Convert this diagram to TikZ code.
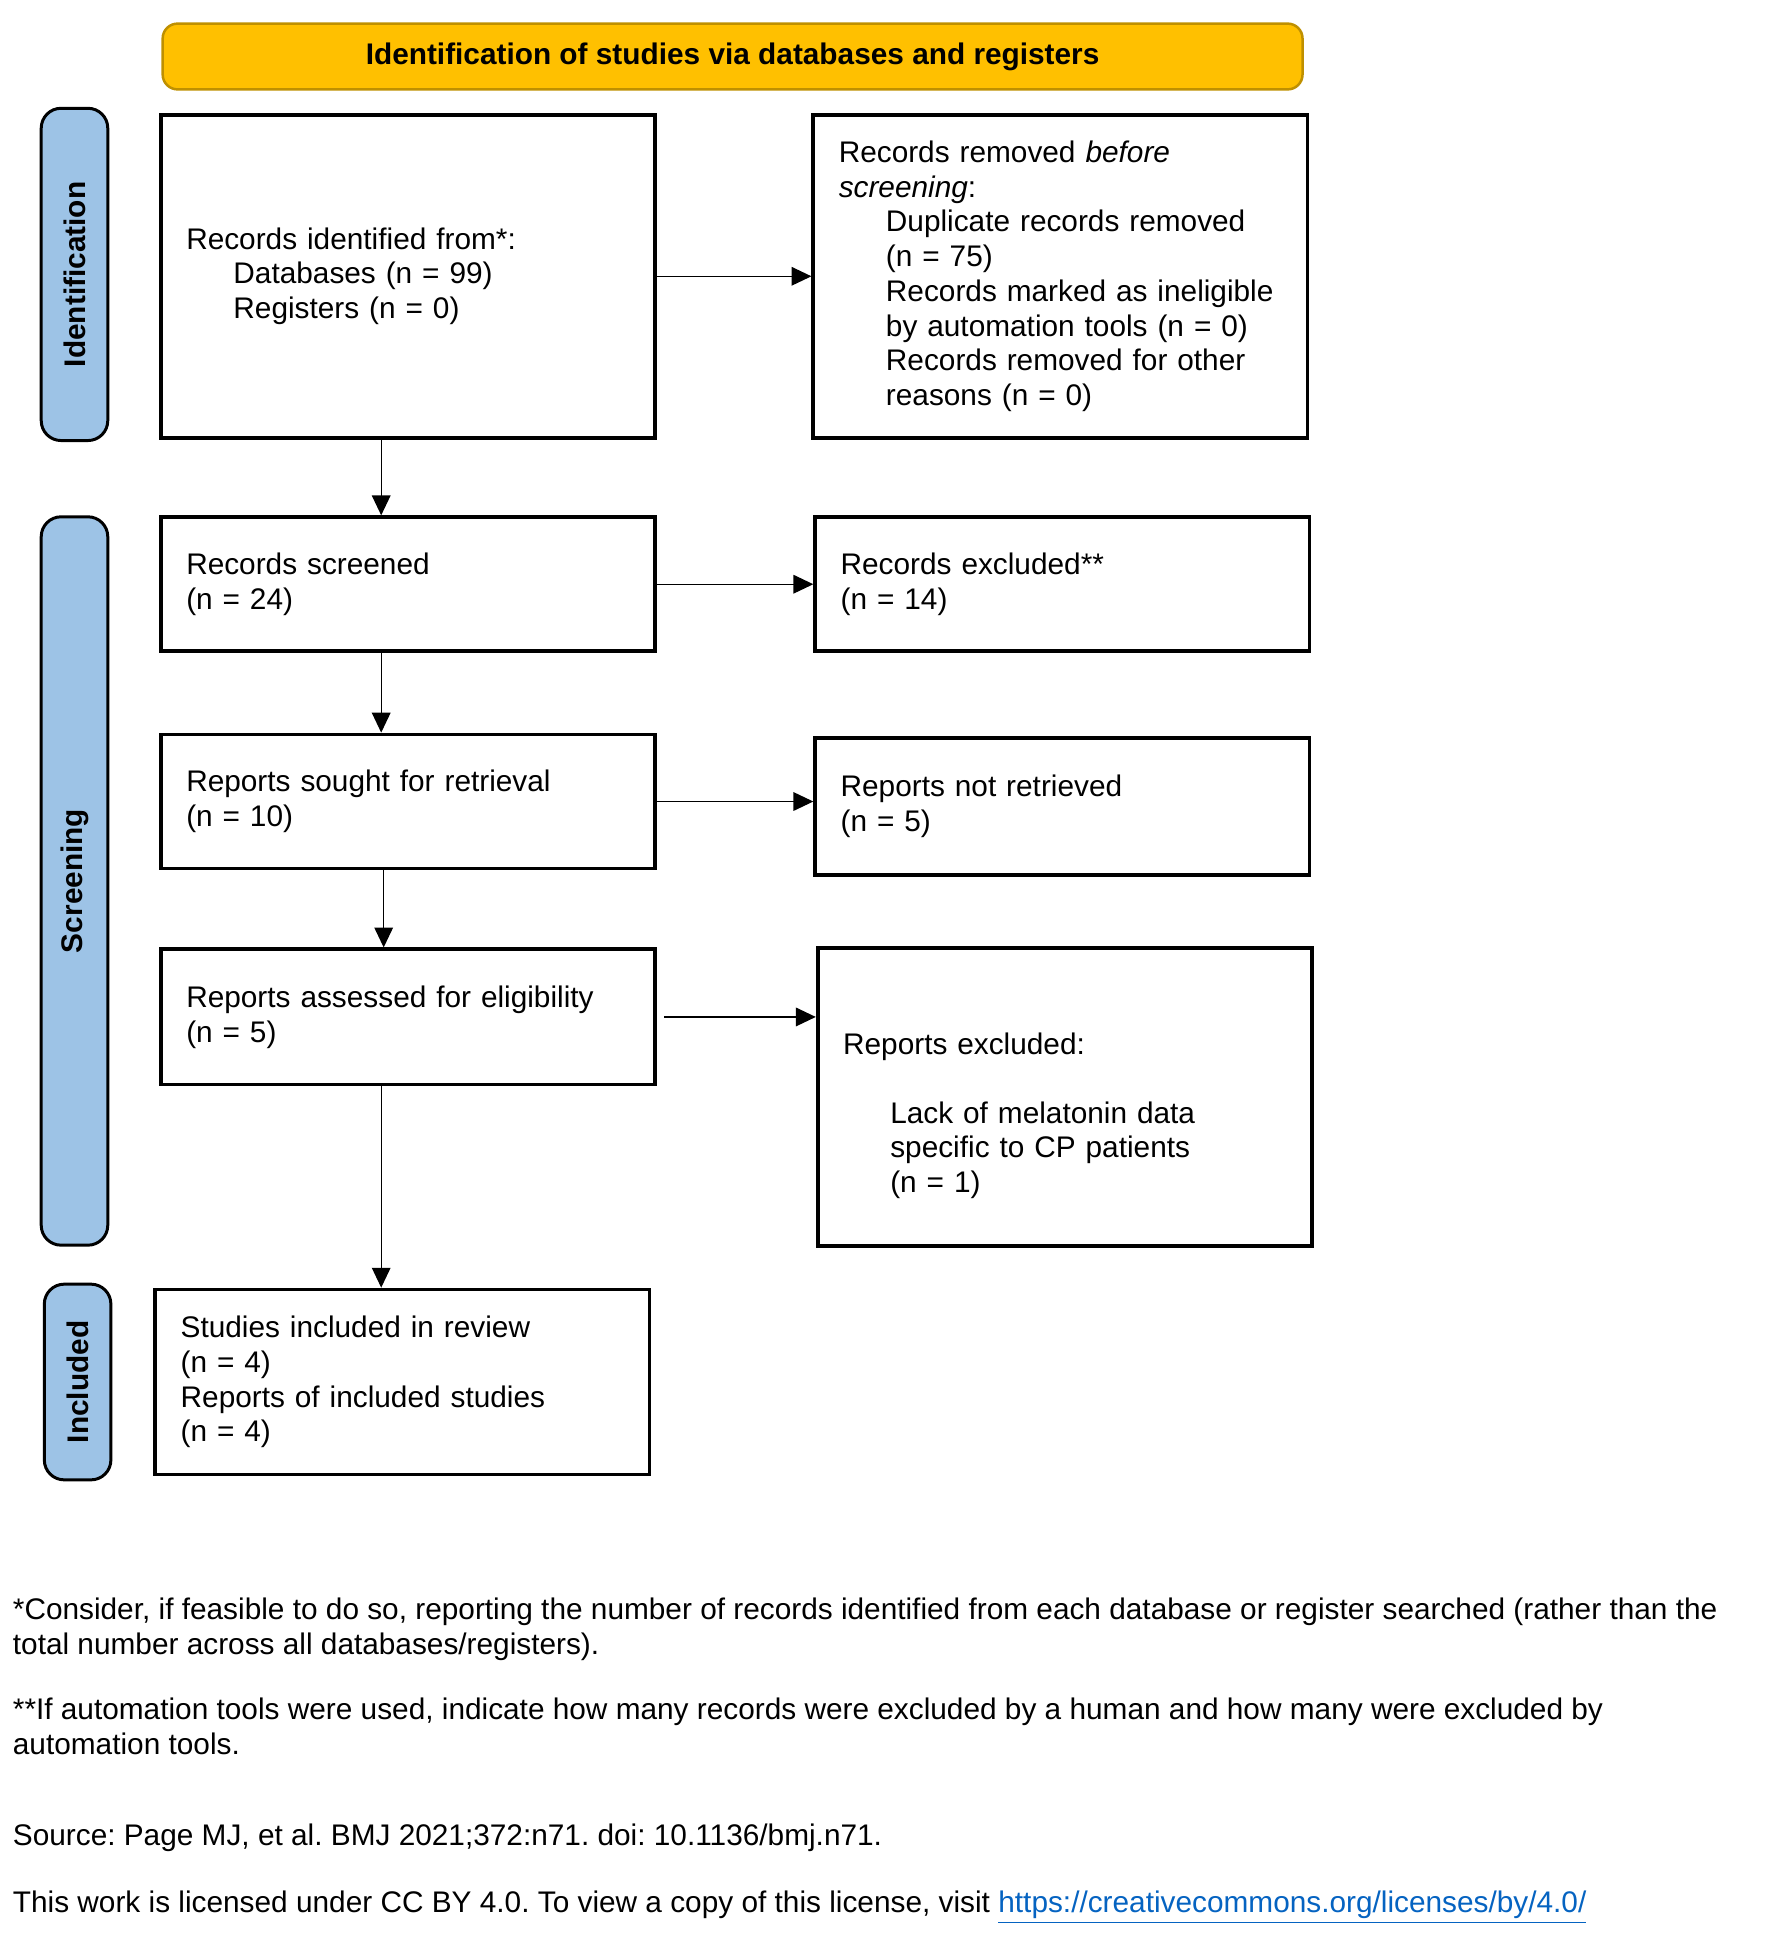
\documentclass[tikz,border=0pt]{standalone}
\usepackage{fontspec}
\setmainfont{Liberation Sans}
\usepackage{tikz}
\usetikzlibrary{arrows.meta}
\definecolor{prismagold}{HTML}{FFC000}
\definecolor{prismagoldline}{HTML}{BF9000}
\definecolor{prismablue}{HTML}{9DC3E6}
\definecolor{linkblue}{HTML}{0563C1}
\newcommand{\ind}{\hspace*{19pt}}
\frenchspacing

\begin{document}
\begin{tikzpicture}[x=0.5pt,y=-0.5pt,
  every node/.style={font=\fontsize{12}{14}\selectfont},
  box/.style={draw,line width=1.5pt,inner xsep=10.25pt,text width=178.5pt,align=left,minimum height=#1},
  phase/.style={draw,line width=1.2pt,fill=prismablue,rounded corners=8pt,rotate=90,
    font=\fontsize{12}{14}\selectfont\bfseries,minimum width=#1,minimum height=26.8pt},
  note/.style={anchor=west,align=left,inner sep=0pt},
  flow/.style={-{Triangle[length=8pt,width=7.5pt]},line width=0.5pt}]
  \useasboundingbox (0,0) rectangle (1427,1564);

  \node[draw=prismagoldline,line width=1pt,fill=prismagold,rounded corners=6pt,
    minimum width=459pt,minimum height=26.5pt,font=\fontsize{12}{14}\selectfont\bfseries]
    (title) at (590,45.5) {Identification of studies via databases and registers};

  % phases
  \node[phase=133.8pt] (pident) at (60,221) {Identification};
  \node[phase=293.3pt] (pscreen) at (60,709.5) {Screening};
  \node[phase=78.8pt] (pincl) at (62.5,1113) {Included};

  % boxes
  \node[box=130pt] (ident) at (328.5,222.5)
    {Records identified from*:\\ \ind Databases (n = 99)\\ \ind Registers (n = 0)};
  \node[box=130pt] (removed) at (854,222.5)
    {Records removed \textit{before}\\ \textit{screening}:\\
     \ind Duplicate records removed\\ \ind (n = 75)\\
     \ind Records marked as ineligible\\ \ind by automation tools (n = 0)\\
     \ind Records removed for other\\ \ind reasons (n = 0)};
  \node[box=54pt] (screened) at (328.5,470.5) {Records screened\\(n = 24)};
  \node[box=54pt] (excluded) at (855.5,470.5) {Records excluded**\\(n = 14)};
  \node[box=54pt] (sought) at (328.5,645.5) {Reports sought for retrieval\\(n = 10)};
  \node[box=55pt] (notretr) at (855.5,649.5) {Reports not retrieved\\(n = 5)};
  \node[box=54.5pt] (assessed) at (328.5,819) {Reports assessed for eligibility\\(n = 5)};
  \node[box=120pt] (repexcl) at (857.5,883.5)
    {\mbox{}\\[10pt]Reports excluded:\\[13.5pt]
     \ind Lack of melatonin data\\ \ind specific to CP patients\\ \ind (n = 1)};
  \node[box=74.5pt] (included) at (324,1113)
    {Studies included in review\\(n = 4)\\Reports of included studies\\(n = 4)};

  \coordinate (sp9) at ([xshift=-10.75pt]assessed.south);
  \path[flow]
    (ident.east) edge (removed.west)
    ([xshift=-10.75pt]ident.south) edge ([xshift=-10.75pt]screened.north)
    (screened.east) edge (excluded.west)
    ([xshift=-10.75pt]screened.south) edge ([xshift=-10.75pt]sought.north)
    (sought.east) edge (sought.east -| notretr.west)
    ([xshift=-9.75pt]sought.south) edge ([xshift=-9.75pt]assessed.north)
    ([xshift=3pt]assessed.east) edge (assessed.east -| repexcl.west)
    (sp9) edge (sp9 |- included.north);

  % footnotes
  \node[note] (fn1) at (10,1312) {*Consider, if feasible to do so, reporting the number of records identified from each database or register searched (rather than the\\total number across all databases/registers).};
  \node[note] (fn2) at (10,1390) {**If automation tools were used, indicate how many records were excluded by a human and how many were excluded by\\automation tools.};
  \node[note] (src) at (10,1480) {Source: Page MJ, et al. BMJ 2021;372:n71. doi: 10.1136/bmj.n71.};
  \node[note] (lic) at (10,1536) {This work is licensed under CC BY 4.0. To view a copy of this license, visit \textcolor{linkblue}{\underline{https://creativecommons.org/licenses/by/4.0/}}};
\end{tikzpicture}
\end{document}
